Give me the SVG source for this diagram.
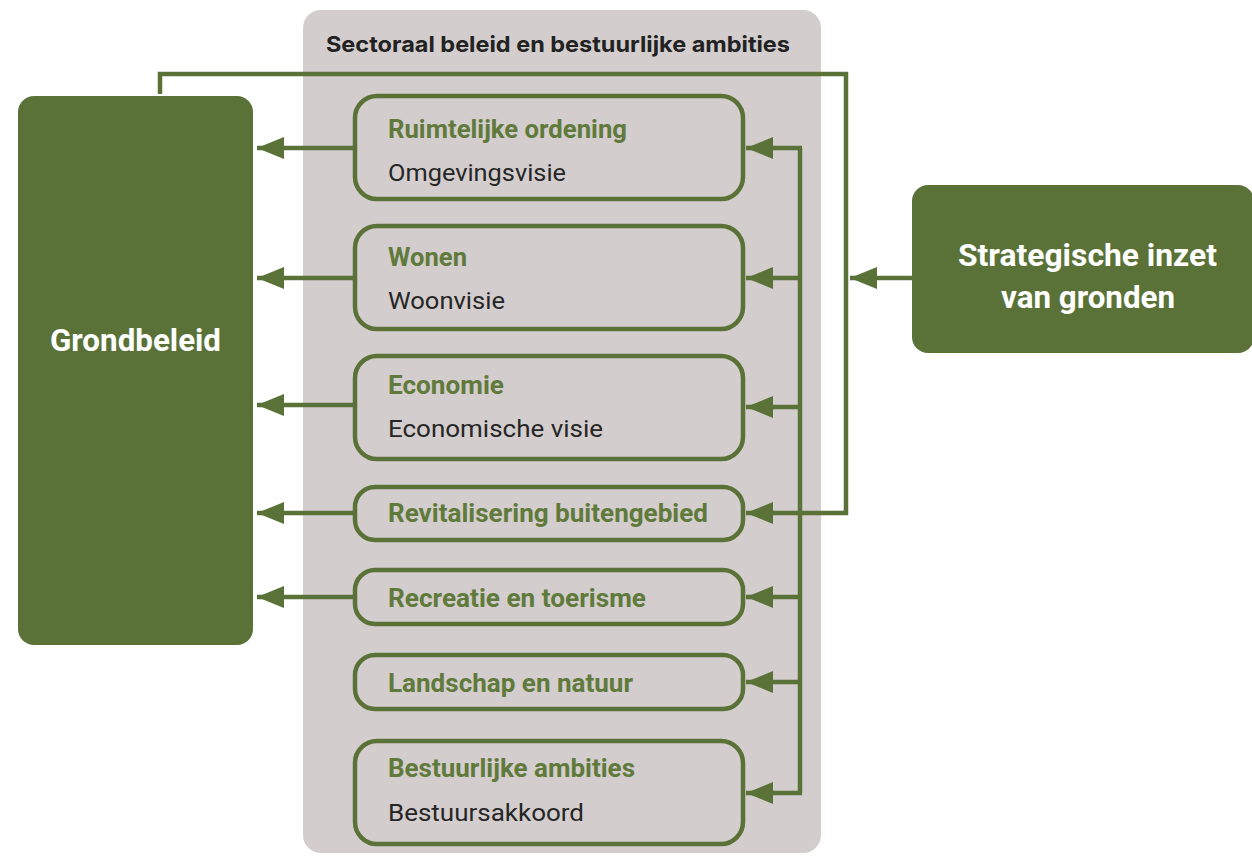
<svg xmlns="http://www.w3.org/2000/svg" width="1252" height="857" viewBox="0 0 1252 857">
<style>
.box{fill:none;stroke:#5a7237;stroke-width:4.5}
.big{fill:#5a7237}
.t{font-family:Roboto,"Liberation Sans",sans-serif;font-size:25px;font-weight:bold;fill:#5f7a3b}
.s{font-family:Roboto,"Liberation Sans",sans-serif;font-size:23.5px;fill:#262626}
.w{font-family:Roboto,"Liberation Sans",sans-serif;font-weight:bold;fill:#ffffff;text-anchor:middle}
.ln{fill:none;stroke:#5a7237;stroke-width:4.5}
</style>
<defs>
<marker id="ah" markerUnits="userSpaceOnUse" markerWidth="28" markerHeight="22" refX="27" refY="11" orient="auto">
<path d="M0,0 L27,11 L0,22 Z" fill="#5a7237"/>
</marker>
</defs>
<rect width="1252" height="857" fill="#ffffff"/>
<g id="panel">
<rect x="303" y="10" width="518" height="843" rx="18" fill="#d3cdcd"/>
<text x="558" y="52" text-anchor="middle" textLength="464" lengthAdjust="spacingAndGlyphs" style="font-family:Inter,'Liberation Sans',sans-serif;font-size:22px;font-weight:700;fill:#222">Sectoraal beleid en bestuurlijke ambities</text>
</g>
<g id="grondbeleid">
<rect x="18" y="96" width="235" height="549" rx="16" class="big"/>
<text x="135.5" y="351" class="w" font-size="31.5" textLength="171" lengthAdjust="spacingAndGlyphs">Grondbeleid</text>
</g>
<g id="strategisch">
<rect x="912" y="185" width="342" height="168" rx="16" class="big"/>
<text x="1087.5" y="266" class="w" font-size="30.5" textLength="259" lengthAdjust="spacingAndGlyphs">Strategische inzet</text>
<text x="1088" y="308" class="w" font-size="30.5" textLength="174" lengthAdjust="spacingAndGlyphs">van gronden</text>
</g>
<g id="ruimtelijke">
<rect x="355" y="96" width="388" height="103" rx="22" class="box"/>
<text x="388" y="138" class="t" textLength="239" lengthAdjust="spacingAndGlyphs">Ruimtelijke ordening</text>
<text x="388" y="181" class="s" textLength="178" lengthAdjust="spacingAndGlyphs">Omgevingsvisie</text>
</g>
<g id="wonen">
<rect x="355" y="226" width="388" height="103" rx="22" class="box"/>
<text x="388" y="266" class="t" textLength="79" lengthAdjust="spacingAndGlyphs">Wonen</text>
<text x="388" y="309" class="s" textLength="117" lengthAdjust="spacingAndGlyphs">Woonvisie</text>
</g>
<g id="economie">
<rect x="355" y="356" width="388" height="103" rx="22" class="box"/>
<text x="388" y="394" class="t" textLength="116" lengthAdjust="spacingAndGlyphs">Economie</text>
<text x="388" y="437" class="s" textLength="215" lengthAdjust="spacingAndGlyphs">Economische visie</text>
</g>
<g id="revitalisering">
<rect x="355" y="487" width="388" height="53" rx="20" class="box"/>
<text x="388" y="522" class="t" textLength="320" lengthAdjust="spacingAndGlyphs">Revitalisering buitengebied</text>
</g>
<g id="recreatie">
<rect x="355" y="570" width="388" height="54" rx="20" class="box"/>
<text x="388" y="607" class="t" textLength="258" lengthAdjust="spacingAndGlyphs">Recreatie en toerisme</text>
</g>
<g id="landschap">
<rect x="355" y="655" width="388" height="54" rx="20" class="box"/>
<text x="388" y="692" class="t" textLength="245" lengthAdjust="spacingAndGlyphs">Landschap en natuur</text>
</g>
<g id="bestuurlijke">
<rect x="355" y="741" width="388" height="103" rx="22" class="box"/>
<text x="388" y="777" class="t" textLength="247" lengthAdjust="spacingAndGlyphs">Bestuurlijke ambities</text>
<text x="388" y="821" class="s" textLength="196" lengthAdjust="spacingAndGlyphs">Bestuursakkoord</text>
</g>
<g id="connectors">
<path class="ln" d="M353,148 H257" marker-end="url(#ah)"/>
<path class="ln" d="M353,278 H257" marker-end="url(#ah)"/>
<path class="ln" d="M353,405 H257" marker-end="url(#ah)"/>
<path class="ln" d="M353,513 H257" marker-end="url(#ah)"/>
<path class="ln" d="M353,597 H257" marker-end="url(#ah)"/>
<path class="ln" d="M912,278 H850" marker-end="url(#ah)"/>
<path class="ln" d="M160,94 V74 H846 V513 H746" marker-end="url(#ah)"/>
<path class="ln" d="M800,148 V793"/>
<path class="ln" d="M802,148 H746" marker-end="url(#ah)"/>
<path class="ln" d="M800,278 H746" marker-end="url(#ah)"/>
<path class="ln" d="M800,407 H746" marker-end="url(#ah)"/>
<path class="ln" d="M800,597 H746" marker-end="url(#ah)"/>
<path class="ln" d="M800,682 H746" marker-end="url(#ah)"/>
<path class="ln" d="M802,793 H746" marker-end="url(#ah)"/>
</g>
</svg>
